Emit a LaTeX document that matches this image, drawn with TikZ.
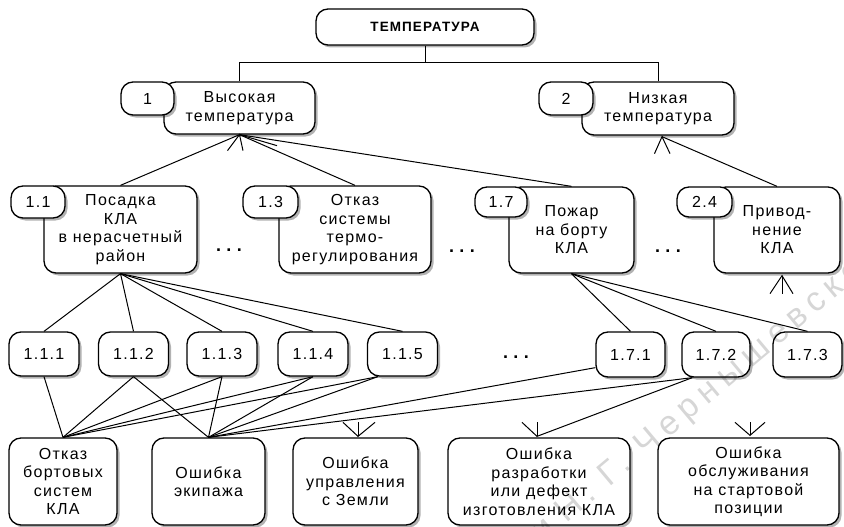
\documentclass[tikz,border=0pt]{standalone}
\usepackage{fontspec}
\setmainfont[LetterSpace=8]{Liberation Sans}
\newfontfamily\dotfnt[LetterSpace=30]{Liberation Sans}
\newfontfamily\wmfnt[LetterSpace=20]{Liberation Sans}
\usetikzlibrary{shadows,calc}
\newcommand\mytxt{\fontsize{16}{18.5}\selectfont}
\tikzset{
  box/.style={draw, line width=1.3pt, rounded corners=12pt, fill=white,
    align=center, inner sep=0pt, font=\mytxt,
    drop shadow={shadow xshift=2.5pt, shadow yshift=-2.5pt, fill=black, opacity=0.3}},
  pill/.style={box, minimum height=32pt},
  small/.style={box, minimum width=70pt, minimum height=44pt},
  big/.style={box, minimum height=87pt},
  conn/.style={line width=1pt},
  dotsnode/.style={anchor=base, inner sep=0pt, font=\dotfnt\bfseries\fontsize{18}{20}\selectfont},
  wm/.style={inner sep=0pt, text=black, opacity=0.16, font=\wmfnt\fontsize{34}{36}\selectfont}
}
\begin{document}
\begin{tikzpicture}[x=1pt,y=-1pt]
\useasboundingbox (0,0) rectangle (844,527);
% top level
\node[box, minimum width=218pt, minimum height=36pt, font=\bfseries\fontsize{13.5}{15}\selectfont] (root) at (425,27) {ТЕМПЕРАТУРА};
\node[box, minimum width=151pt, minimum height=52pt] (hi) at (239.5,108) {Высокая\\температура};
\node[pill, minimum width=53pt, minimum height=33pt] (p1) at (147.5,98.5) {1};
\node[box, minimum width=152pt, minimum height=53pt] (lo) at (658,108.5) {Низкая\\температура};
\node[pill, minimum width=54pt, minimum height=33pt] (p2) at (566,98.5) {2};
% second level
\node[big, minimum width=153pt] (n11) at (120.5,229.5) {Посадка\\КЛА\\в нерасчетный\\район};
\node[pill, minimum width=54pt] (p11) at (38,202) {1.1};
\node[big, minimum width=152pt] (n13) at (355,229.5) {Отказ\\системы\\термо-\\регулирования};
\node[pill, minimum width=55pt] (p13) at (270.5,202) {1.3};
\node[big, minimum width=125pt, minimum height=86pt] (n17) at (571.5,230) {Пожар\\на борту\\КЛА};
\node[pill, minimum width=52pt, minimum height=30pt] (p17) at (501,202) {1.7};
\node[big, minimum width=126pt, minimum height=86pt] (n24) at (777,230) {Привод-\\нение\\КЛА};
\node[pill, minimum width=55pt, minimum height=30pt] (p24) at (704.5,202) {2.4};
\node[dotsnode] (d1) at (229,251) {...};
\node[dotsnode] (d2) at (462,252) {...};
\node[dotsnode] (d3) at (668,252) {...};
% third level
\node[small] (m111) at (44,354) {1.1.1};
\node[small] (m112) at (133.5,354) {1.1.2};
\node[small] (m113) at (222,354) {1.1.3};
\node[small] (m114) at (313,354) {1.1.4};
\node[small] (m115) at (402.5,354) {1.1.5};
\node[dotsnode] (d4) at (516,358) {...};
\node[small, minimum width=69pt, minimum height=45pt] (m171) at (630.5,354.5) {1.7.1};
\node[small, minimum width=68pt, minimum height=45pt] (m172) at (716,354.5) {1.7.2};
\node[small, minimum width=69pt, minimum height=45pt] (m173) at (807.5,354.5) {1.7.3};
% bottom level
\node[big, minimum width=108pt] (b1) at (63,481.5) {Отказ\\бортовых\\систем\\КЛА};
\node[big, minimum width=113pt] (b2) at (208.5,481.5) {Ошибка\\экипажа};
\node[big, minimum width=125pt] (b3) at (355.5,481.5) {Ошибка\\управления\\с Земли};
\node[big, minimum width=182pt] (b4) at (539,481.5) {Ошибка\\разработки\\или дефект\\изготовления КЛА};
\node[big, minimum width=181pt] (b5) at (748.5,481.5) {Ошибка\\обслуживания\\на стартовой\\позиции};
% connectors top
\draw[conn] (root.south) -- ++(0,17) -| (hi.north);
\draw[conn] (root.south) -- ++(0,17) -| (lo.north);
% from Высокая
\draw[conn] (hi.south) -- (n11.north);
\draw[conn] (hi.south) -- (n13.north);
\draw[conn] (hi.south) -- (n17.north);
\draw[conn] ($(hi.south)+(-12,16)$) -- (hi.south) -- ($(hi.south)+(3.5,16)$);
\draw[conn] (hi.south) -- ($(hi.south)+(37.5,11)$);
% from Низкая
\coordinate (lotip) at ($(lo.south)+(4,1)$);
\draw[conn] (lotip) -- (n24.north);
\draw[conn] ($(lotip)+(-7.5,17)$) -- (lotip) -- ($(lotip)+(8,17)$);
\coordinate (n24tip) at ($(n24.south)+(5,2)$);
\draw[conn] ($(n24tip)+(-12,18)$) -- (n24tip) -- ($(n24tip)+(11,18)$);
\draw[conn] (n24tip) -- ($(n24tip)+(0,18)$);
% from 1.1
\foreach \m in {m111,m112,m113,m114,m115} \draw[conn] (n11.south) -- (\m.north);
% from 1.7
\foreach \m in {m171,m172,m173} \draw[conn] (n17.south) -- (\m.north);
% to bottom boxes
\coordinate (a115) at ($(m115.south west)+(11,0)$);
\coordinate (a171) at ($(m171.south west)+(0,-10)$);
\coordinate (a172) at ($(m172.south west)+(11,0)$);
\draw[conn] (m111.south) -- (b1.north);
\foreach \m in {m112.south,m113.south,m114.south,a115} {
  \draw[conn] (\m) -- (b1.north);
  \draw[conn] (\m) -- (b2.north);
}
\draw[conn] (a171) -- (b2.north);
\draw[conn] (a172) -- (b2.north);
% arrowheads on bottom boxes
\coordinate (b3tip) at ($(b3.north)+(2.5,-1)$);
\draw[conn] ($(b3tip)+(-15,-14)$) -- (b3tip) -- ($(b3tip)+(17,-14)$);
\draw[conn] (b3tip) -- ($(b3tip)+(0,-14)$);
\coordinate (b4tip) at ($(b4.north)+(-2,-1)$);
\draw[conn] ($(b4tip)+(-15,-14)$) -- (b4tip) -- (a172);
\draw[conn] (b4tip) -- ($(b4tip)+(0,-14)$);
\coordinate (b5tip) at ($(b5.north)+(1.5,-2)$);
\draw[conn] ($(b5tip)+(-15,-13)$) -- (b5tip) -- ($(b5tip)+(15,-13)$);
\draw[conn] (b5tip) -- ($(b5tip)+(0,-13)$);
% watermark
\begin{scope}
\clip (0,0) rectangle (844,527);
\node[wm, anchor=base west, rotate=40] (wm1) at (566,524) {Н. Г. Чернышевского};
\node[wm, anchor=base east, rotate=40] (wm0) at ($(wm1.base west)+(-9,7.5)$) {имени};
\end{scope}
\end{tikzpicture}
\end{document}
